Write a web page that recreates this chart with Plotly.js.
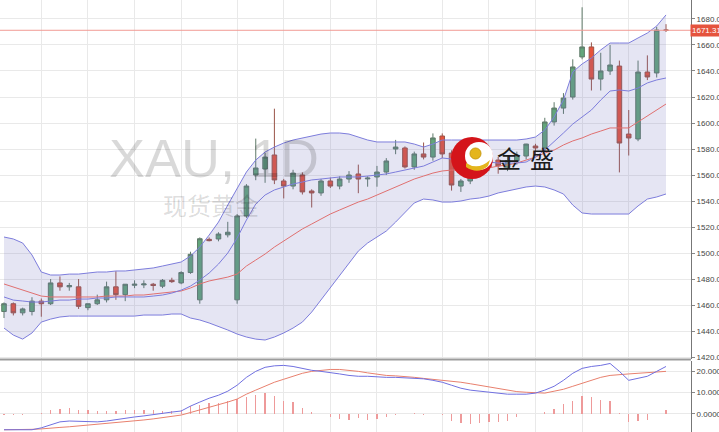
<!DOCTYPE html>
<html>
<head>
<meta charset="utf-8">
<script src="https://cdn.plot.ly/plotly-3.0.1.min.js"></script>
<style>
  html, body { margin: 0; padding: 0; background: #fff; }
  #chart { width: 719px; height: 432px; }
</style>
</head>
<body>
<div id="chart"></div>
<script>
// XAU daily candles (oldest first)
const opens = [1455,1461,1454,1455,1463,1461,1477,1474,1474,1458,
  1461,1464,1474,1468,1475.2,1475.5,1476,1474.5,1479,1477,
  1485,1464,1510.5,1510.8,1514,1464,1528.5,1560,1564.6,1575.4,
  1555.4,1551.5,1560,1547.7,1546.2,1555.4,1551.5,1556.9,1560.8,1557,
  1558.5,1562.3,1580,1580.8,1566.2,1576.2,1573.8,1590,1576.9,1551.5,
  1555.4,1563.8,1568,1571.5,1566,1571,1574.6,1582.3,1580.8,1600.8,
  1611.5,1620,1650.8,1658.5,1633.8,1640,1643.8,1591.5,1587.7,1639.2,
  1638.5,1671.5];
const highs = [1462,1462,1458,1466,1465,1480,1482,1477,1480,1461,
  1468,1478,1486,1476,1479,1479,1477,1480,1481,1486,
  1501,1512,1512,1516,1524,1530,1553,1588,1577,1611,
  1557,1564,1562,1549,1557,1558,1559,1563,1568,1559,
  1567,1573,1587,1582,1578,1585,1592,1592,1579,1557,
  1566,1572,1571,1574,1575,1578,1584,1584,1604,1616,
  1623,1649,1689,1662,1654,1660,1648,1610,1648,1652,
  1674,1676];
const lows = [1450,1452,1452,1452,1451,1460,1471,1471,1457,1456,
  1460,1462,1464,1463,1473,1473,1471,1473,1477,1476,
  1484,1461,1509,1509,1512,1461,1527,1556,1554,1553,
  1542,1549,1545,1535,1544,1550,1549,1554,1546,1551,
  1551,1560,1576,1565,1564,1572,1571,1573,1548,1547,
  1553,1561,1563,1561,1563,1568,1572,1575,1578,1598,
  1607,1618,1649,1625,1625,1637,1562,1575,1586,1633,
  1635,1670];
const closes = [1461,1454,1457,1463,1461,1477,1474,1475,1459,1461,
  1464,1474,1468,1476,1476,1476.2,1475,1479,1478,1485,
  1499,1511,1509.5,1514.6,1516,1528.5,1551.5,1565.4,1573.8,1556.2,
  1551.5,1561.5,1547,1546.2,1555.4,1551.5,1556.9,1560,1556.9,1557.6,
  1562.3,1570.8,1581.5,1566.2,1576.2,1573.8,1588.5,1576.2,1552.3,1555.4,
  1563.8,1568,1566,1567,1571,1575,1583.8,1580.8,1600.8,1611.5,
  1619.2,1643.1,1658.5,1633.8,1640,1644.6,1584.6,1588.5,1639.2,1635.4,
  1671.5,1671.31];

// Bollinger bands and moving average
const bandUpper = [1512.3,1510.8,1507.7,1498.5,1485.4,1483.1,1483.1,1483.8,1483.8,1484.6,
  1485.4,1485.4,1486.2,1486.2,1486.9,1487.7,1488.5,1490.0,1491.5,1493.1,
  1497.7,1504.6,1513.8,1523.8,1536.9,1550.0,1562.3,1571.5,1577.7,1581.5,
  1584.6,1586.9,1588.5,1590.0,1591.5,1592.3,1592.3,1591.5,1589.2,1586.9,
  1585.4,1585.4,1585.4,1585.4,1583.8,1581.5,1583.8,1586.9,1586.9,1586.9,
  1586.9,1586.9,1586.9,1586.9,1586.9,1586.9,1587.7,1589.2,1594.6,1604.6,
  1617.7,1639.2,1645.4,1650.0,1656.2,1661.5,1661.5,1661.5,1665.4,1669.2,
  1674.6,1683.1];
const bandMiddle = [1466.2,1463.8,1463.1,1462.3,1462.3,1463.1,1463.8,1463.8,1464.6,1464.6,
  1465.4,1465.4,1466.2,1466.2,1466.2,1466.2,1466.9,1467.7,1469.2,1471.5,
  1474.6,1479.2,1484.6,1491.5,1500.0,1511.5,1525.4,1537.7,1544.6,1548.5,
  1550.8,1553.1,1554.6,1556.2,1556.9,1557.7,1558.5,1558.5,1558.5,1559.2,
  1560.0,1560.8,1562.3,1563.8,1565.4,1566.9,1570.0,1573.1,1572.3,1571.5,
  1571.5,1570.8,1570.0,1569.2,1569.2,1569.2,1570.0,1573.8,1579.2,1585.4,
  1592.3,1599.2,1604.6,1610.0,1617.7,1624.6,1625.4,1624.6,1626.9,1630.8,
  1633.1,1634.6];
const bandLower = [1442.3,1436.9,1433.8,1438.5,1446.9,1449.2,1450.8,1451.5,1451.5,1451.5,
  1451.5,1451.5,1451.5,1451.5,1451.5,1452.3,1452.3,1452.3,1453.1,1453.1,
  1450.0,1448.5,1446.2,1443.8,1440.8,1437.7,1435.4,1433.8,1433.1,1435.4,
  1438.5,1442.3,1446.9,1454.6,1463.8,1473.1,1482.3,1491.5,1501.5,1507.7,
  1512.3,1516.9,1523.8,1531.5,1538.5,1541.5,1540.8,1539.2,1539.2,1540.0,
  1541.5,1542.3,1543.8,1546.2,1547.7,1549.2,1550.8,1551.5,1550.8,1548.5,
  1545.4,1536.9,1530.8,1530.0,1530.0,1530.0,1530.0,1530.0,1536.2,1541.5,
  1543.1,1545.4];
const movingAvg = [1476.2,1473.8,1471.5,1469.2,1466.9,1466.2,1466.2,1466.2,1466.2,1466.2,
  1466.2,1466.9,1466.9,1466.9,1467.7,1467.7,1468.5,1469.2,1470.0,1470.8,
  1473.1,1476.2,1478.5,1480.0,1481.5,1483.8,1490.0,1494.6,1499.2,1504.6,
  1509.2,1513.8,1518.5,1522.3,1526.2,1530.0,1533.1,1536.2,1539.2,1541.5,
  1544.6,1547.7,1550.8,1553.8,1556.9,1559.2,1561.5,1563.1,1563.8,1563.8,
  1563.8,1564.6,1565.4,1566.9,1567.7,1569.2,1571.5,1573.8,1576.9,1579.2,
  1583.1,1586.2,1588.5,1591.5,1593.8,1596.2,1596.2,1596.2,1600.8,1605.4,
  1610.0,1614.6];

// MACD panel
const macdLine = [-7.4,-7.4,-7.4,-7.4,-6.5,-5.1,-3.7,-3.3,-3.5,-3.7,
  -3.7,-3.3,-2.6,-1.9,-1.4,-0.9,-0.2,0.5,0.9,1.4,
  3.7,5.6,7.4,8.8,10.7,13.5,17.2,20.0,21.9,22.6,
  22.8,22.3,21.4,20.5,20.0,19.5,18.8,18.1,17.7,17.7,
  17.4,17.2,17.2,17.0,16.7,16.5,15.8,14.9,13.5,12.1,
  11.2,10.7,10.2,9.8,9.3,9.3,9.3,9.8,11.2,13.0,
  15.8,19.1,21.4,22.3,22.8,23.7,20.0,15.8,16.7,17.7,
  20.0,22.3];
const signalLine = [-7.4,-7.4,-7.4,-7.2,-7.0,-6.5,-6.3,-6.0,-5.6,-5.3,
  -5.1,-4.7,-4.2,-3.7,-3.3,-2.8,-2.3,-1.6,-0.9,-0.5,
  0.7,1.9,3.0,4.2,5.6,7.0,9.3,11.2,13.0,14.9,
  16.3,17.7,19.1,20.0,20.5,20.9,20.9,20.5,20.0,19.3,
  18.6,18.1,17.9,17.7,17.2,16.7,16.3,15.8,15.3,14.9,
  14.2,13.5,12.8,12.1,11.2,10.5,10.2,10.0,9.8,10.7,
  11.6,13.0,14.4,15.8,17.2,18.1,18.6,18.8,19.1,19.5,
  19.8,20.0];
const macdHist = [-0.4,-0.5,-0.5,0,0.3,2.0,2.4,2.9,2.1,2.0,
  1.6,1.6,1.6,2.0,2.1,2.1,1.8,1.6,1.4,2.0,
  3.6,4.4,5.0,5.2,6.0,7.1,7.8,8.9,9.9,8.3,
  6.3,5.8,2.9,0.8,0.2,-1.5,-2.2,-2.7,-2.0,-2.6,
  -2.3,-1.6,-0.3,0.2,0.3,-0.3,0.1,-0.3,-3.4,-4.3,
  -4.7,-4.2,-3.8,-3.8,-3.4,-1.6,0.1,0.1,1.0,2.4,
  4.6,6.2,8.5,7.8,6.5,6.2,0.5,-3.6,-3.1,-2.6,
  0.1,1.9];

// axis ticks
const weekStarts = [4,9,14,19,25,30,35,40,47,52,57,62,67];
const priceTicks = [1420,1440,1460,1480,1500,1520,1540,1560,1580,1600,1620,1640,1660,1680];
const macdTicks = [0,10,20];
const lastPrice = 1671.31;

const idx = closes.map((_, i) => i);

const bandColor = '#7d7ddc';
const traces = [
  { type: 'scatter', mode: 'lines', x: idx, y: bandLower, xaxis: 'x', yaxis: 'y',
    line: { color: bandColor, width: 1 }, hoverinfo: 'skip' },
  { type: 'scatter', mode: 'lines', x: idx, y: bandUpper, xaxis: 'x', yaxis: 'y',
    line: { color: bandColor, width: 1 }, fill: 'tonexty',
    fillcolor: 'rgba(110,110,190,0.18)', hoverinfo: 'skip' },
  { type: 'scatter', mode: 'lines', x: idx, y: movingAvg, xaxis: 'x', yaxis: 'y',
    line: { color: '#e07070', width: 1 }, hoverinfo: 'skip' },
  { type: 'scatter', mode: 'lines', x: idx, y: bandMiddle, xaxis: 'x', yaxis: 'y',
    line: { color: bandColor, width: 1 }, hoverinfo: 'skip' },
  { type: 'candlestick', x: idx, open: opens, high: highs, low: lows, close: closes,
    xaxis: 'x', yaxis: 'y',
    increasing: { line: { color: '#5f7a69', width: 1 }, fillcolor: '#62a67b' },
    decreasing: { line: { color: '#9a5448', width: 1 }, fillcolor: '#e6533c' },
    hoverinfo: 'skip' },
  { type: 'bar', x: idx, y: macdHist, xaxis: 'x', yaxis: 'y2', width: 0.14,
    marker: { color: '#ee9a9a', line: { width: 0 } }, hoverinfo: 'skip' },
  { type: 'scatter', mode: 'lines', x: idx, y: signalLine, xaxis: 'x', yaxis: 'y2',
    line: { color: '#e8806e', width: 1 }, hoverinfo: 'skip' },
  { type: 'scatter', mode: 'lines', x: idx, y: macdLine, xaxis: 'x', yaxis: 'y2',
    line: { color: '#7070e0', width: 1 }, hoverinfo: 'skip' }
];

const tickFont = { family: 'Liberation Sans, Arial, sans-serif', size: 8, color: '#444' };
const plotW = 691, plotH = 432;
const px = v => v / plotW;
const py = v => 1 - v / plotH;

const layout = {
  width: 719, height: 432,
  margin: { l: 0, r: 28, t: 0, b: 0 },
  paper_bgcolor: '#ffffff', plot_bgcolor: '#ffffff',
  showlegend: false,
  bargap: 0,
  xaxis: {
    range: [-0.43, 73.68], anchor: 'y2',
    tickmode: 'array', tickvals: weekStarts, showticklabels: false, ticks: '',
    showgrid: true, gridcolor: '#e9e9e9', gridwidth: 1,
    zeroline: false, showline: false, rangeslider: { visible: false }, fixedrange: true
  },
  yaxis: {
    domain: [0.169, 1], range: [1418.5, 1694.6], side: 'right',
    tickmode: 'array', tickvals: priceTicks, tickformat: '.2f', tickfont: tickFont,
    ticks: 'outside', ticklen: 3, tickcolor: '#888',
    showgrid: true, gridcolor: '#e9e9e9', zeroline: false,
    showline: true, linecolor: '#777', linewidth: 1, fixedrange: true
  },
  yaxis2: {
    domain: [0, 0.1655], range: [-8.45, 25.1], side: 'right',
    tickmode: 'array', tickvals: macdTicks, tickformat: '.4f', tickfont: tickFont,
    ticks: 'outside', ticklen: 3, tickcolor: '#888',
    showgrid: true, gridcolor: '#e9e9e9', zeroline: false,
    showline: true, linecolor: '#777', linewidth: 1, fixedrange: true
  },
  shapes: [
    // last price line
    { type: 'line', xref: 'paper', yref: 'y', x0: 0, x1: 1, y0: lastPrice, y1: lastPrice,
      line: { color: '#f19a94', width: 1 } },
    // panel separator
    { type: 'line', xref: 'paper', yref: 'paper', x0: 0, x1: 1, y0: py(359.5), y1: py(359.5),
      line: { color: '#9c9c9c', width: 2 } },
    // logo emblem
    { type: 'circle', xref: 'paper', yref: 'paper', x0: px(451), x1: px(493), y0: py(179), y1: py(137),
      fillcolor: '#d4141a', line: { width: 0 } },
    { type: 'circle', xref: 'paper', yref: 'paper', x0: px(465), x1: px(493), y0: py(170), y1: py(142),
      fillcolor: '#ffffff', line: { width: 0 } },
    { type: 'circle', xref: 'paper', yref: 'paper', x0: px(470), x1: px(481), y0: py(159), y1: py(148),
      fillcolor: '#e4b51c', line: { color: '#c99a10', width: 1 } },
    { type: 'path', xref: 'paper', yref: 'paper',
      path: `M ${px(466)} ${py(163)} Q ${px(478)} ${py(171)} ${px(490)} ${py(160)} L ${px(488)} ${py(166)} Q ${px(478)} ${py(175)} ${px(466)} ${py(167)} Z`,
      fillcolor: '#e4b51c', line: { width: 0 } }
  ],
  annotations: [
    { xref: 'paper', yref: 'paper', x: px(214), y: py(158), text: 'XAU, 1D',
      showarrow: false, xanchor: 'center', yanchor: 'middle',
      font: { family: 'Liberation Sans, Arial, sans-serif', size: 54, color: 'rgba(0,0,0,0.15)' } },
    { xref: 'paper', yref: 'paper', x: px(211), y: py(204), text: '现货黄金',
      showarrow: false, xanchor: 'center', yanchor: 'middle',
      font: { family: 'Noto Sans CJK SC, sans-serif', size: 24, color: 'rgba(0,0,0,0.15)' } },
    { xref: 'paper', yref: 'paper', x: px(508.5), y: py(157.5), text: '金',
      showarrow: false, xanchor: 'center', yanchor: 'middle',
      font: { family: 'Noto Sans CJK SC, sans-serif', size: 24, color: '#1b1b1b' } },
    { xref: 'paper', yref: 'paper', x: px(541.5), y: py(157.5), text: '盛',
      showarrow: false, xanchor: 'center', yanchor: 'middle',
      font: { family: 'Noto Sans CJK SC, sans-serif', size: 24, color: '#1b1b1b' } },
    { xref: 'paper', yref: 'y', x: 1, y: lastPrice, text: '1671.31',
      showarrow: false, xanchor: 'left', yanchor: 'middle', xshift: -1,
      bgcolor: '#e5533d', borderpad: 1,
      font: { family: 'Liberation Sans, Arial, sans-serif', size: 8, color: '#ffffff' } }
  ]
};

Plotly.newPlot('chart', traces, layout, { staticPlot: true, displayModeBar: false });
</script>
</body>
</html>
